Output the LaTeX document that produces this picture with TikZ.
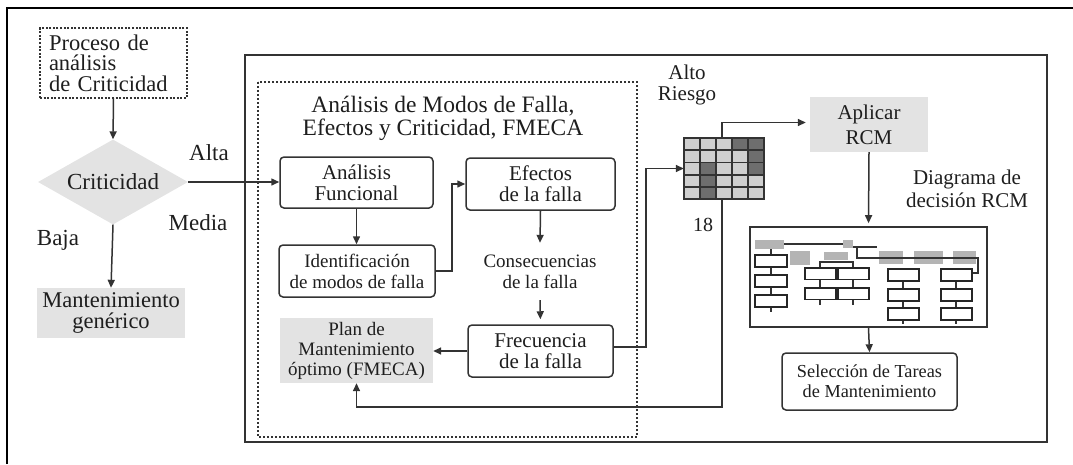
\documentclass[tikz,border=0pt]{standalone}
\usepackage{fontspec}
\setmainfont{Liberation Serif}
\usetikzlibrary{arrows.meta,shapes.geometric,calc}
\definecolor{txt}{HTML}{1E1E1E}
\definecolor{ln}{HTML}{333333}
\definecolor{grayfill}{HTML}{E3E3E3}
\definecolor{celllt}{HTML}{CFCFCF}
\definecolor{celldk}{HTML}{6E6E6E}
\definecolor{barc}{HTML}{B4B4B4}
\tikzset{
 arr/.style={draw=ln, line width=1.5pt, -{Triangle[length=8pt,width=7pt]}},
 rbox/.style={draw=ln, line width=1.5pt, rounded corners=4pt, fill=white, inner sep=0pt, align=center, text=txt},
 gbox/.style={fill=grayfill, inner sep=0pt, align=center, text=txt},
 lbl/.style={inner sep=0pt, align=center, text=txt},
 mini/.style={draw=black!85, line width=1.1pt, fill=white},
 miniln/.style={draw=black!80, line width=1.1pt},
}
\begin{document}
\begin{tikzpicture}[x=1pt,y=-1pt]
\useasboundingbox (0,0) rectangle (1073,464);
% outer frame (only top and left visible)
\draw[black, line width=2.5pt] (7,464) -- (7,8) -- (1073,8);
% main solid box
\draw[ln, line width=1.8pt] (245,55) rectangle (1047,442);
% dashed FMECA box
\draw[ln, line width=1.4pt, dash pattern=on 2pt off 2pt] (258,82) rectangle (637,437);

% left part
\node[draw=ln, dash pattern=on 2pt off 1.6pt, line width=1.3pt, minimum width=147pt, minimum height=70pt, inner sep=0pt, text width=129pt, align=left, font=\fontsize{22.5}{20.5}\selectfont, text=txt] (proc) at (113.5,63) {Proceso de\\análisis\\de Criticidad};
\node[diamond, fill=grayfill, aspect=1.76, minimum width=150pt, minimum height=85pt, inner sep=0pt, text=txt, font=\fontsize{23}{20}\selectfont] (crit) at (113,182) {Criticidad};
\node[gbox, minimum width=148pt, minimum height=50pt, font=\fontsize{22.5}{21}\selectfont] (gen) at (111,313) {Mantenimiento\\genérico};
\node[lbl, font=\fontsize{23}{20}\selectfont] (alta) at (209,153) {Alta};
\node[lbl, font=\fontsize{23}{20}\selectfont] (media) at (198,223) {Media};
\node[lbl, font=\fontsize{23}{20}\selectfont] (baja) at (58,240) {Baja};

% FMECA part
\node[lbl, font=\fontsize{23.5}{23.5}\selectfont] (title) at (443,118.5) {Análisis de Modos de Falla,\\Efectos y Criticidad, FMECA};
\node[rbox, minimum width=153pt, minimum height=51pt, font=\fontsize{21}{21}\selectfont] (af) at (356.5,182.5) {Análisis\\Funcional};
\node[rbox, minimum width=156pt, minimum height=52pt, font=\fontsize{19}{21}\selectfont] (idf) at (357,271) {Identificación\\de modos de falla};
\node[rbox, minimum width=149pt, minimum height=52pt, font=\fontsize{21}{21}\selectfont] (ef) at (540.5,184) {Efectos\\de la falla};
\node[lbl, minimum height=57pt, font=\fontsize{19}{21}\selectfont] (cons) at (540,271.5) {Consecuencias\\de la falla};
\node[rbox, minimum width=145pt, minimum height=52pt, font=\fontsize{21}{21}\selectfont] (fr) at (540.5,351) {Frecuencia\\de la falla};
\node[gbox, minimum width=153pt, minimum height=65pt, font=\fontsize{19}{20}\selectfont] (plan) at (356.5,350.5) {Plan de\\Mantenimiento\\óptimo (FMECA)};

% risk matrix
\node[inner sep=0pt, minimum width=80pt, minimum height=61pt] (mat) at (724,168.5) {};
\fill[celllt] (684,138) rectangle (764,199);
\foreach \c/\r in {4/1,5/1,5/2,2/3,5/3,2/4,2/5}
  \fill[celldk] ({684+(\c-1)*16},{138+(\r-1)*12.2}) rectangle ++(16,12.2);
\foreach \i in {0,...,5}
  \draw[ln, line width=1.8pt] ({684+\i*16},138) -- ++(0,61);
\foreach \j in {0,...,5}
  \draw[ln, line width=1.8pt] (683.1,{138+\j*12.2}) -- ++(81.8,0);
\node[lbl, font=\fontsize{21}{20.5}\selectfont] (alto) at (687,85) {Alto\\Riesgo};
\node[lbl, font=\fontsize{20}{20}\selectfont] (n18) at (703,225) {18};

% RCM part
\node[gbox, minimum width=118pt, minimum height=55pt, font=\fontsize{21}{25}\selectfont] (rcm) at (869,124.5) {Aplicar\\RCM};
\node[lbl, font=\fontsize{21}{23}\selectfont] (dlabel) at (967,188.5) {Diagrama de\\decisión RCM};
\node[draw=ln, line width=1.6pt, minimum width=237pt, minimum height=100pt, inner sep=0pt] (dd) at (868.5,277) {};
\node[rbox, minimum width=175pt, minimum height=57pt, font=\fontsize{18.3}{20}\selectfont] (sel) at (869.5,381.5) {Selección de Tareas\\de Mantenimiento};

% decision diagram miniature
\fill[barc] (755,240) rectangle (784,249);
\fill[barc] (843,240) rectangle (853,248);
\fill[barc] (790,251) rectangle (810,265);
\fill[barc] (824,252) rectangle (848,260);
\fill[barc] (879,251) rectangle (903,264);
\fill[barc] (914,251) rectangle (943,264);
\fill[barc] (953,251) rectangle (976,264);
\draw[miniln] (784,244) -- (843,244);
\draw[miniln] (853,247) -- (877,247);
\draw[miniln] (857,247) -- (857,258) -- (978,258) -- (978,273) -- (972,273);
\draw[miniln] (771,249) -- (771,312);
\draw[miniln] (820,305) -- (820,262) -- (853,262) -- (853,305);
\draw[miniln] (903,281) -- (903,324);
\draw[miniln] (956,281) -- (956,324);
\foreach \yy in {255,275,295}
  \draw[mini] (755,\yy) rectangle ++(32,12);
\foreach \yy in {268,288} {
  \draw[mini] (805,\yy) rectangle ++(31,11.5);
  \draw[mini] (838,\yy) rectangle ++(31,11.5);
}
\foreach \yy in {269,289,308} {
  \draw[mini] (888,\yy) rectangle ++(31,12);
  \draw[mini] (941,\yy) rectangle ++(31,12);
}

% connectors
\draw[arr] (proc.south) -- (crit.north);
\draw[arr] (crit.east) -- (crit.east -| af.west);
\draw[arr] (crit.south) -- (gen.north);
\draw[arr] (af.south) -- (af.south |- idf.north);
\draw[arr] (idf.east) -- ++(16,0) |- (ef.west);
\draw[arr] (ef.south) -- (cons.north);
\draw[arr, shorten >=5pt] (cons.south) -- (fr.north);
\draw[arr] (fr.west) -- (fr.west -| plan.east);
\draw[arr] ([yshift=4pt]fr.east) -- ++(32,0) |- (mat.west);
\draw[arr, shorten >=4pt] ([xshift=-2pt]mat.north) |- ([yshift=2pt]rcm.west);
\draw[arr] ([xshift=-2pt]mat.south) -- ++(0,208) -| (plan.south);
\draw[arr, shorten >=3pt] (rcm.south) -- (dd.north);
\draw[arr] (dd.south) -- (sel.north);
\end{tikzpicture}
\end{document}
